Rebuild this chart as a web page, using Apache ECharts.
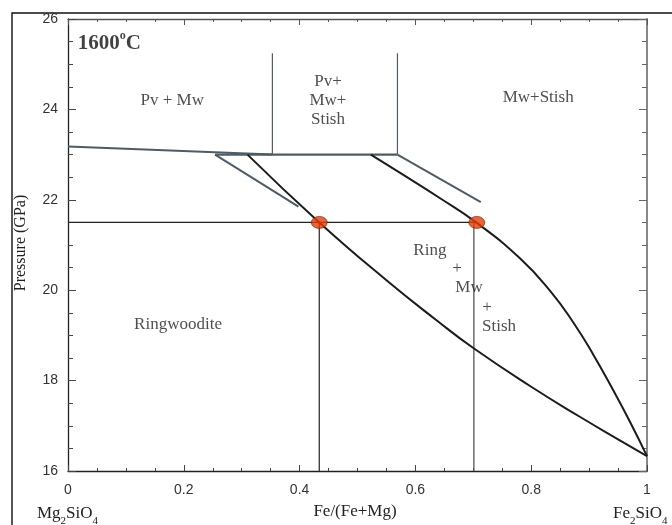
<!DOCTYPE html>
<html>
<head>
<meta charset="utf-8">
<script src="https://cdn.jsdelivr.net/npm/echarts@6/dist/echarts.min.js"></script>
<style>html,body{margin:0;padding:0;background:#fff}#c{width:672px;height:525px}</style>
</head>
<body>
<div id="c"></div>
<script>
// ---- data (Fe/(Fe+Mg), Pressure GPa) ----
const xTickValues = [0, 0.2, 0.4, 0.6, 0.8, 1];
const yTickValues = [16, 18, 20, 22, 24, 26];
const perovskiteBoundary = [[0, 23.18], [0.353, 23.0]];
const tripleLine = [[0.254, 23.0], [0.569, 23.0]];
const pvVerticalLeft = [[0.353, 23.0], [0.353, 25.24]];
const pvVerticalRight = [[0.569, 23.0], [0.569, 25.24]];
const leftTieLine = [[0.254, 23.0], [0.398, 21.85]];
const rightTieLine = [[0.569, 23.0], [0.713, 21.95]];
const ringwooditeBoundary = [[0.31, 23.0], [0.434, 21.5], [0.55, 20.22], [0.637, 19.33], [0.70, 18.72], [0.798, 17.88], [0.884, 17.2], [0.953, 16.68], [1.0, 16.33]];
const mwBoundary = [[0.523, 23.0], [0.573, 22.6], [0.642, 22.04], [0.706, 21.49], [0.781, 20.70], [0.833, 19.98], [0.873, 19.28], [0.907, 18.58], [0.942, 17.78], [0.971, 17.08], [1.0, 16.33]];
const isobar = [[0, 21.5], [0.706, 21.5]];
const isoplethLeft = [[0.434, 16], [0.434, 21.5]];
const isoplethRight = [[0.701, 16], [0.701, 21.5]];
const experimentPoints = [[0.434, 21.5], [0.706, 21.5]];
const regionLabels = [
  ['Pv + Mw', 0.18, 24.19],
  ['Pv+\nMw+\nStish', 0.449, 24.19],
  ['Mw+Stish', 0.812, 24.27],
  ['Ringwoodite', 0.19, 19.25],
  ['Ring', 0.625, 20.87],
  ['+', 0.672, 20.47],
  ['Mw', 0.6926, 20.05],
  ['+', 0.7237, 19.61],
  ['Stish', 0.7444, 19.19]
];
const titleLabel = ['{b|1600}{s|o}{b|C}', 0.017, 25.5];

const SERIF = '"Liberation Serif", "Times New Roman", serif';
const SANS = '"Liberation Sans", Arial, sans-serif';
const GRAY = '#4e5c66';
const BLACK = '#1c1c1c';

function line(data, color, width) {
  return { type: 'line', data: data, symbol: 'none', silent: true,
    lineStyle: { color: color, width: width }, z: 3, xAxisIndex: 0, yAxisIndex: 0 };
}
function smoothLine(data) {
  const s = line(data, BLACK, 2);
  s.smooth = 0.5;
  return s;
}

const chart = echarts.init(document.getElementById('c'), null, { renderer: 'canvas' });
const gridDef = { left: 68, top: 19, width: 579, height: 452 };

const option = {
  animation: false,
  backgroundColor: '#fff',
  grid: gridDef,
  xAxis: [
    { type: 'value', min: 0, max: 1, interval: 0.2, position: 'bottom',
      axisLine: { show: true, onZero: false, lineStyle: { color: '#222', width: 1.3 } },
      axisTick: { show: true, inside: true, length: 6, lineStyle: { color: '#444' } },
      minorTick: { show: true, splitNumber: 4, length: 3, lineStyle: { color: '#444' } },
      splitLine: { show: false },
      axisLabel: { color: '#333', fontFamily: SANS, fontSize: 14, margin: 12,
        formatter: v => xTickValues.includes(+v.toFixed(2)) ? String(+v.toFixed(2)) : '' } },
    { type: 'value', min: 0, max: 1, interval: 0.2, position: 'top',
      axisLine: { show: true, onZero: false, lineStyle: { color: '#555', width: 1.3 } },
      axisTick: { show: true, inside: true, length: 6, lineStyle: { color: '#555' } },
      minorTick: { show: true, splitNumber: 4, length: 3, lineStyle: { color: '#555' } },
      splitLine: { show: false }, axisLabel: { show: false } }
  ],
  yAxis: [
    { type: 'value', min: 16, max: 26, interval: 2, position: 'left',
      axisLine: { show: true, onZero: false, lineStyle: { color: '#222', width: 1.3 } },
      axisTick: { show: true, inside: true, length: 8, lineStyle: { color: '#444' } },
      minorTick: { show: true, splitNumber: 4, length: 5, lineStyle: { color: '#444' } },
      splitLine: { show: false },
      axisLabel: { color: '#333', fontFamily: SANS, fontSize: 14, margin: 10,
        formatter: v => yTickValues.includes(v) ? String(v) : '' } },
    { type: 'value', min: 16, max: 26, interval: 2, position: 'right',
      axisLine: { show: true, onZero: false, lineStyle: { color: '#888', width: 2 } },
      axisTick: { show: true, inside: true, length: 8, lineStyle: { color: '#666' } },
      minorTick: { show: true, splitNumber: 4, length: 5, lineStyle: { color: '#666' } },
      splitLine: { show: false }, axisLabel: { show: false } }
  ],
  series: [
    line(perovskiteBoundary, GRAY, 2),
    line(tripleLine, GRAY, 2.2),
    line(pvVerticalLeft, GRAY, 1.2),
    line(pvVerticalRight, GRAY, 1.2),
    line(leftTieLine, GRAY, 2),
    line(rightTieLine, GRAY, 2),
    line(isobar, '#222', 1.3),
    line(isoplethLeft, '#333', 1.3),
    line(isoplethRight, '#555', 1.3),
    smoothLine(ringwooditeBoundary),
    smoothLine(mwBoundary),
    { type: 'scatter', data: experimentPoints, symbol: 'circle', symbolSize: [16, 12], z: 5, silent: true,
      itemStyle: { color: '#e83c05', borderColor: '#6a2000', borderWidth: 0.8 } },
    { type: 'scatter', silent: true, symbolSize: 0, z: 6,
      data: regionLabels.map(r => ({ value: [r[1], r[2]], name: r[0] })),
      label: { show: true, position: 'inside', formatter: '{b}', color: '#222',
        fontFamily: SERIF, fontSize: 17, lineHeight: 19, align: 'center', verticalAlign: 'middle' } },
    { type: 'scatter', silent: true, symbolSize: 0, z: 6,
      data: [{ value: [titleLabel[1], titleLabel[2]], name: titleLabel[0] }],
      label: { show: true, position: 'inside', formatter: '{b}', align: 'left', verticalAlign: 'middle',
        rich: {
          b: { fontFamily: SERIF, fontSize: 21, fontWeight: 'bold', color: '#111', verticalAlign: 'bottom', lineHeight: 24 },
          s: { fontFamily: SERIF, fontSize: 12, fontWeight: 'bold', color: '#111', verticalAlign: 'top', lineHeight: 24 }
        } } }
  ],
  graphic: [
    { type: 'rect', shape: { x: 12, y: 13, width: 720, height: 600 }, silent: true,
      style: { fill: 'none', stroke: '#111', lineWidth: 1.4 }, z: 0 },
    { type: 'text', x: 21, y: 243, rotation: Math.PI / 2, silent: true,
      style: { text: 'Pressure (GPa)', font: '16px ' + SERIF, fill: '#222', align: 'center', verticalAlign: 'middle' } },
    { type: 'text', x: 355, y: 512, silent: true,
      style: { text: 'Fe/(Fe+Mg)', font: '17px ' + SERIF, fill: '#222', align: 'center', verticalAlign: 'middle' } },
    { type: 'text', x: 37, y: 514, silent: true,
      style: { text: '{m|Mg}{u|2}{m|SiO}{u|4}', align: 'left', verticalAlign: 'middle',
        rich: { m: { fontSize: 17, fontFamily: SERIF, fill: '#222', verticalAlign: 'middle', lineHeight: 18 },
                u: { fontSize: 11, fontFamily: SERIF, fill: '#222', verticalAlign: 'bottom', lineHeight: 26 } } } },
    { type: 'text', x: 613, y: 514, silent: true,
      style: { text: '{m|Fe}{u|2}{m|SiO}{u|4}', align: 'left', verticalAlign: 'middle',
        rich: { m: { fontSize: 17, fontFamily: SERIF, fill: '#222', verticalAlign: 'middle', lineHeight: 18 },
                u: { fontSize: 11, fontFamily: SERIF, fill: '#222', verticalAlign: 'bottom', lineHeight: 26 } } } }
  ]
};
chart.setOption(option);
</script>
</body>
</html>
